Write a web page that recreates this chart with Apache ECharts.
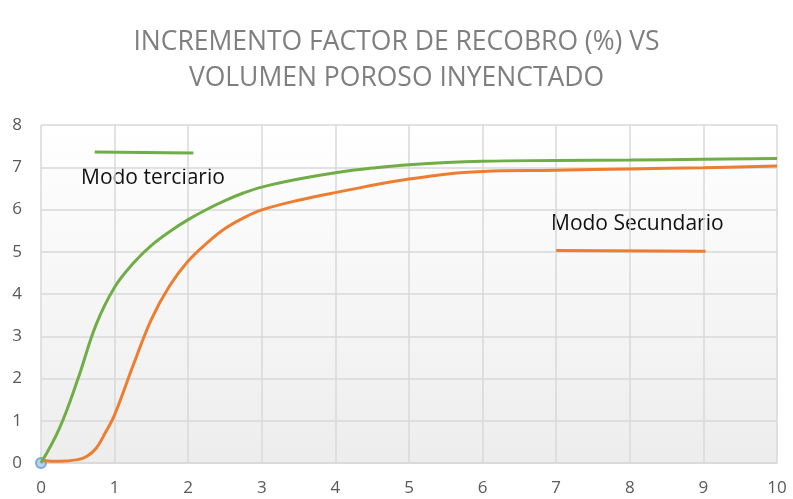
<!DOCTYPE html>
<html lang="es">
<head>
<meta charset="UTF-8">
<title>Incremento factor de recobro</title>
<script src="https://cdn.jsdelivr.net/npm/echarts@6/dist/echarts.min.js"></script>
<style>
  html, body { margin: 0; padding: 0; background: #fff; }
  #box { width: 793px; height: 499px; }
</style>
</head>
<body>
<div id="box"></div>
<script>
// volumen poroso inyectado (x) y factor de recobro (%)
var terciarioX = [0, 0.25, 0.5, 0.75, 1, 1.25, 1.5, 1.75, 2, 2.25, 2.5, 2.75, 3, 3.5, 4, 4.5, 5, 6, 7, 8, 9, 10];
var terciarioY = [0, 0.82, 1.98, 3.28, 4.16, 4.72, 5.15, 5.48, 5.76, 6.0, 6.21, 6.39, 6.53, 6.72, 6.87, 6.98, 7.06, 7.14, 7.16, 7.17, 7.19, 7.21];
var secundarioX = [0, 0.25, 0.5, 0.625, 0.75, 0.875, 1, 1.25, 1.5, 1.75, 2, 2.25, 2.5, 2.75, 3, 3.5, 4, 5, 6, 7, 8, 9, 10];
var secundarioY = [0.06, 0.04, 0.08, 0.16, 0.35, 0.72, 1.14, 2.3, 3.4, 4.2, 4.78, 5.2, 5.55, 5.8, 5.99, 6.22, 6.4, 6.72, 6.9, 6.93, 6.96, 6.99, 7.03];
// trazos cortos que hacen de leyenda
var leyendaTerciario = [[0.73, 7.36], [2.07, 7.34]];
var leyendaSecundario = [[7.0, 5.03], [9.03, 5.01]];
var origen = [[0, 0]];
var xTicks = [0, 10, 1];
var yTicks = [0, 8, 1];

function pares(xs, ys) {
  return xs.map(function (x, i) { return [x, ys[i]]; });
}

var chart = echarts.init(document.getElementById('box'));
var labelStyle = { color: '#595959', fontSize: 17, fontFamily: 'Open Sans' };
chart.setOption({
  animation: false,
  title: {
    text: 'INCREMENTO FACTOR DE RECOBRO (%) VS\nVOLUMEN POROSO INYENCTADO',
    left: 'center',
    top: 19,
    textStyle: { color: '#7f7f7f', fontSize: 26.5, fontWeight: 'normal', fontFamily: 'Open Sans', lineHeight: 36 }
  },
  grid: {
    left: 41, right: 16, top: 125, bottom: 36,
    show: true, borderWidth: 0,
    backgroundColor: new echarts.graphic.LinearGradient(0, 0, 0, 1, [
      { offset: 0, color: '#ffffff' },
      { offset: 1, color: '#ededed' }
    ])
  },
  xAxis: {
    type: 'value', min: xTicks[0], max: xTicks[1], interval: xTicks[2],
    axisLine: { show: true, lineStyle: { color: '#d9d9d9', width: 1.5 } },
    axisTick: { show: false },
    axisLabel: Object.assign({ margin: 17 }, labelStyle),
    splitLine: { show: true, lineStyle: { color: '#d9d9d9', width: 1.5 } }
  },
  yAxis: {
    type: 'value', min: yTicks[0], max: yTicks[1], interval: yTicks[2],
    axisLine: { show: false },
    axisTick: { show: false },
    axisLabel: Object.assign({ margin: 19 }, labelStyle),
    splitLine: { show: true, lineStyle: { color: '#d9d9d9', width: 1.5 } }
  },
  graphic: [
    { type: 'text', left: 81, top: 168, style: { text: 'Modo terciario', fill: '#111', font: '21px "Open Sans"' } },
    { type: 'text', left: 551, top: 214, style: { text: 'Modo Secundario', fill: '#111', font: '21px "Open Sans"' } }
  ],
  series: [
    {
      type: 'line', smooth: 0.4, symbol: 'none',
      lineStyle: { color: '#ed7d31', width: 3 },
      data: pares(secundarioX, secundarioY)
    },
    {
      type: 'line', smooth: 0.4, symbol: 'none',
      lineStyle: { color: '#70ad47', width: 3 },
      data: pares(terciarioX, terciarioY)
    },
    {
      type: 'line', symbol: 'none',
      lineStyle: { color: '#70ad47', width: 3 },
      data: leyendaTerciario
    },
    {
      type: 'line', symbol: 'none',
      lineStyle: { color: '#ed7d31', width: 3 },
      data: leyendaSecundario
    },
    {
      type: 'scatter', symbol: 'circle', symbolSize: 10,
      itemStyle: { color: '#a9c8ea', borderColor: '#5b9bd5', borderWidth: 2 },
      data: origen
    }
  ]
});
</script>
</body>
</html>
